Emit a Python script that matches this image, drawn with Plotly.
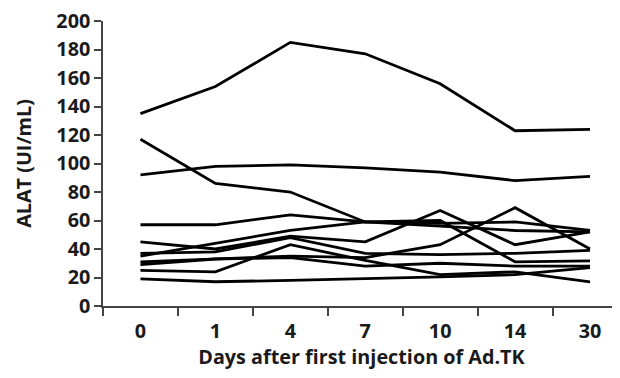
import plotly.graph_objects as go

days = ["0", "1", "4", "7", "10", "14", "30"]
y_ticks = [0, 20, 40, 60, 80, 100, 120, 140, 160, 180, 200]

s1 = [135, 154, 185, 177, 156, 123, 124]
s2 = [92, 98, 99, 97, 94, 88, 91]
s3 = [117, 86, 80, 59, 60, 31, 31.6]
s4 = [57, 57, 64, 59, 56, 53, 52]
s5 = [35, 44, 53, 59, 58, 59, 53]
s6 = [45, 40, 49, 45, 67, 43, 52]
s7 = [31, 33, 35, 34, 43, 69, 40]
s8 = [37, 38, 48, 37, 36, 37, 39]
s9 = [29, 33, 34, 28, 30, 28, 28]
s10 = [25, 24, 43, 32, 22, 24, 17]
s11 = [19, 17, 18, 19, 20.5, 22, 27]

series = [s1, s2, s3, s4, s5, s6, s7, s8, s9, s10, s11]

fig = go.Figure()
for s in series:
    fig.add_trace(go.Scatter(x=days, y=s, mode="lines",
                             line=dict(color="black", width=2.8),
                             showlegend=False, hoverinfo="skip"))

font_family = "Open Sans"
fs = 19.8
fig.update_layout(
    width=620, height=378,
    margin=dict(l=95, r=8, t=13, b=80),
    paper_bgcolor="white", plot_bgcolor="white",
    font=dict(family=font_family, color="#1a1a1a"),
)
fig.update_xaxes(
    type="category", range=[-0.5, 6.4], automargin=False,
    showline=True, linecolor="#444", linewidth=1.5,
    ticks="outside", tickson="boundaries", ticklen=8, tickcolor="#444", tickwidth=1.5,
    tickfont=dict(size=fs, weight="bold", family=font_family),
    ticklabelstandoff=6, ticklabeloverflow="allow",
    title=dict(text="Days after first injection of Ad.TK",
               font=dict(size=fs, weight="bold", family=font_family), standoff=4),
    showgrid=False, zeroline=False,
)
fig.update_yaxes(
    range=[0, 200], tickvals=y_ticks, automargin=False,
    showline=True, linecolor="#444", linewidth=1.5,
    ticks="outside", ticklen=7, tickcolor="#444", tickwidth=1.5,
    tickfont=dict(size=fs, weight="bold", family=font_family),
    ticklabeloverflow="allow",
    title=dict(text="ALAT (UI/mL)",
               font=dict(size=fs, weight="bold", family=font_family), standoff=19),
    showgrid=False, zeroline=False,
)
fig.write_html("out.html")
